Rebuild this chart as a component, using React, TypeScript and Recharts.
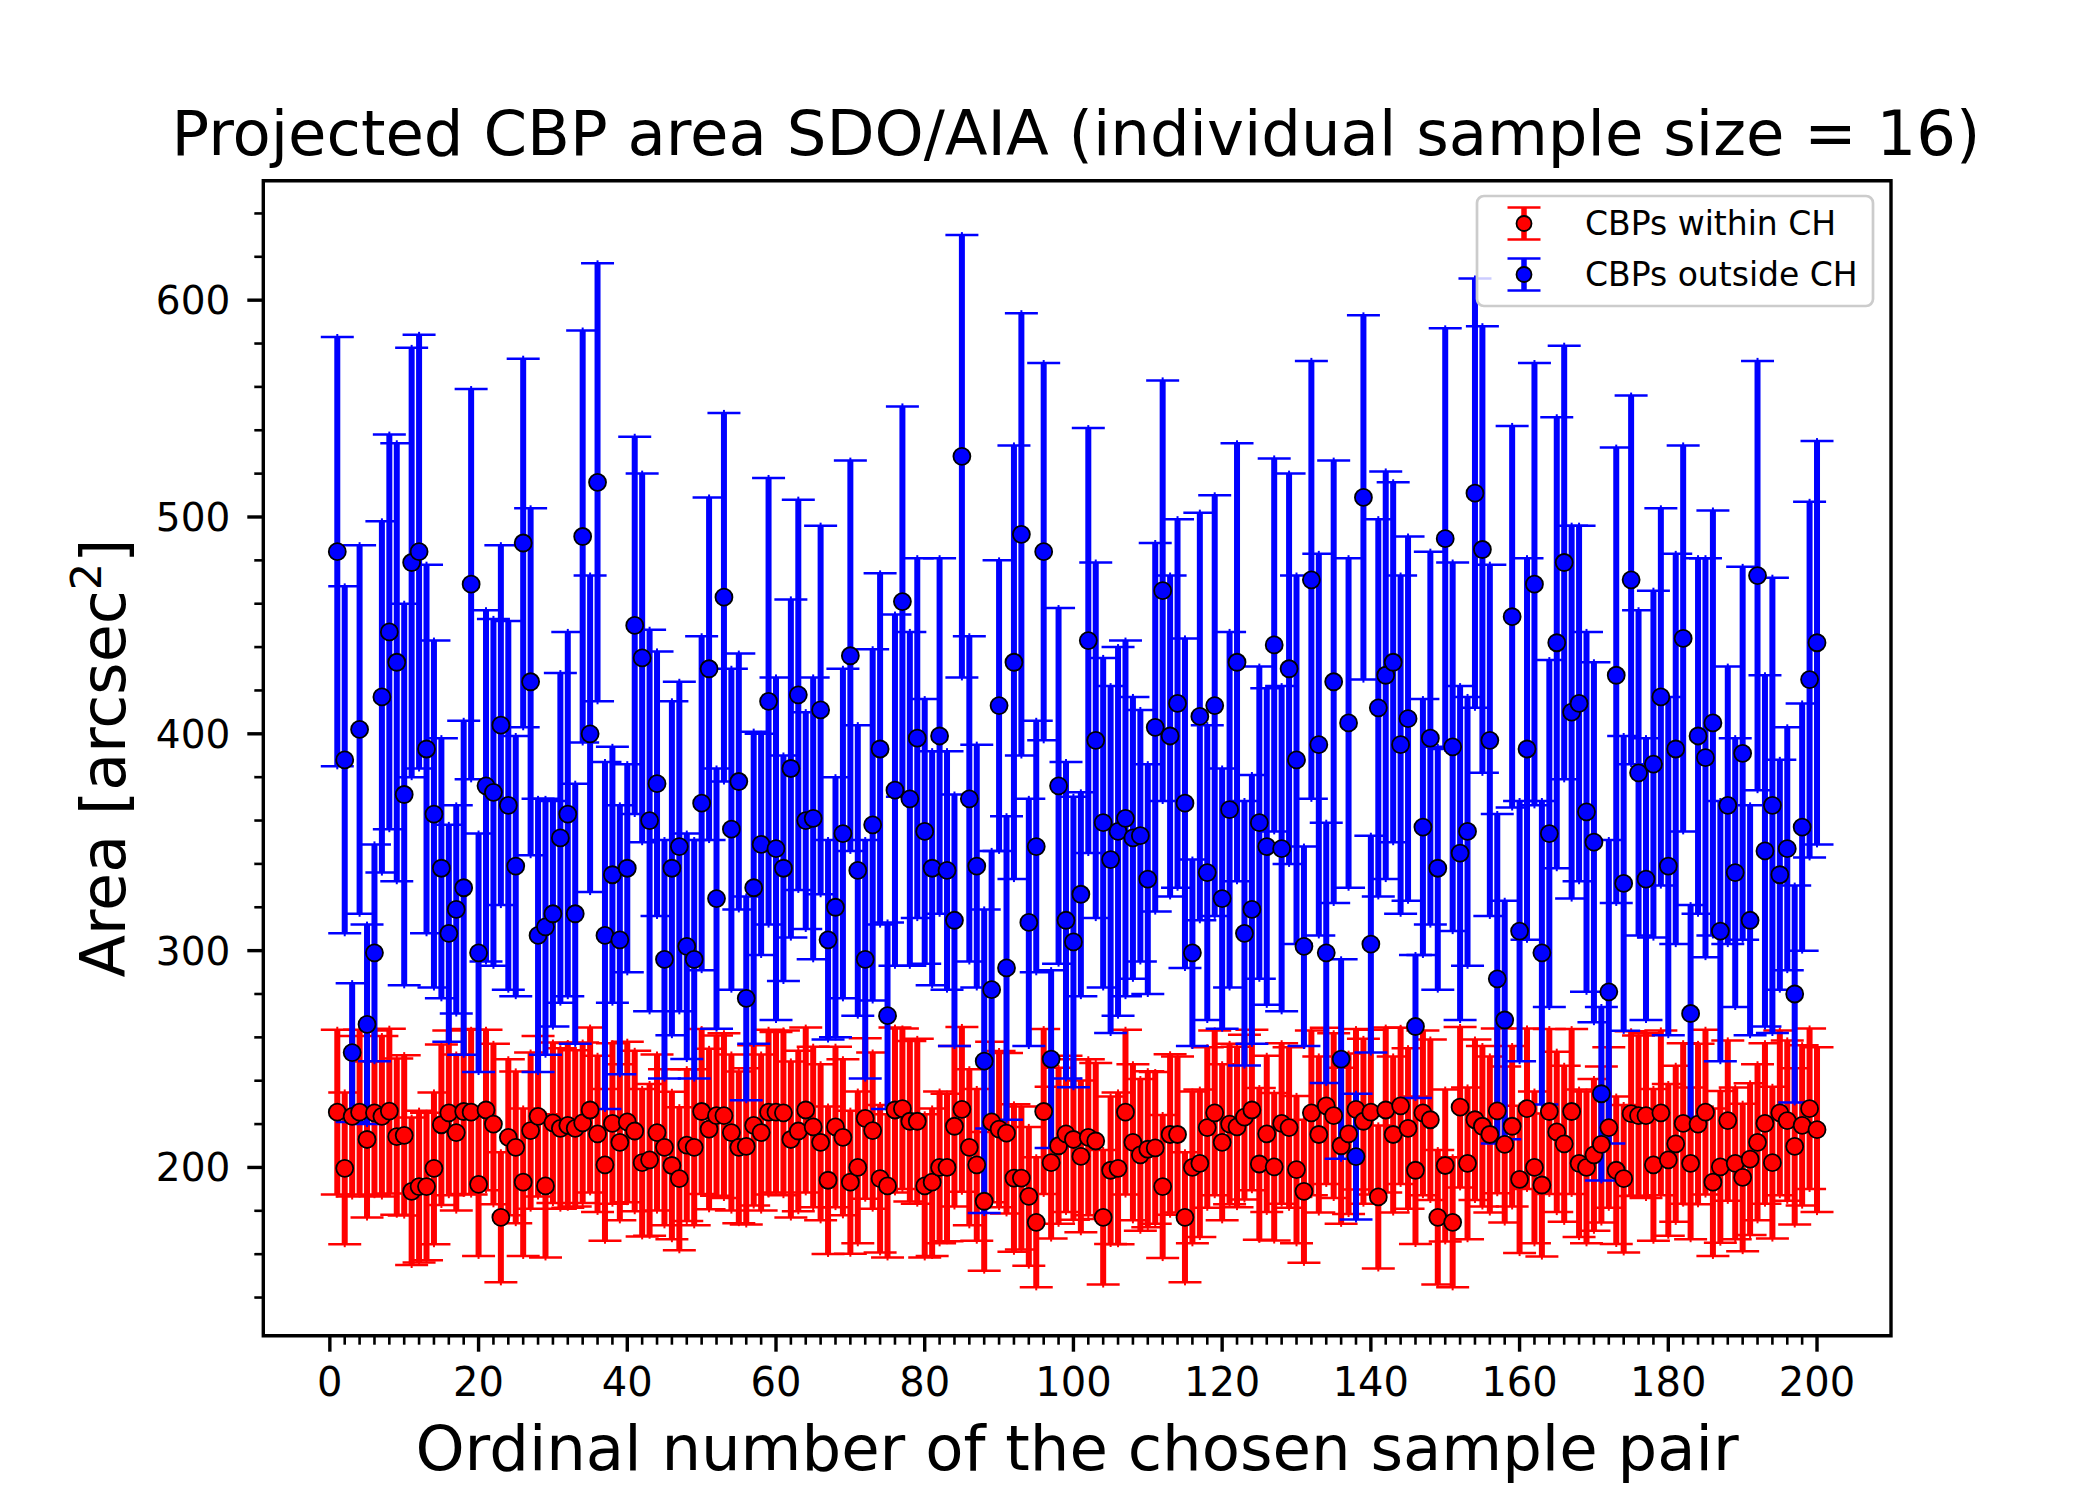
import { ScatterChart, Scatter, XAxis, YAxis, ErrorBar, ReferenceArea } from 'recharts';

// mean projected area of CBPs outside coronal holes, per sample pair 1..200
const blueValues = [
  484, 388, 253, 402, 266, 299, 417, 447, 433, 372, 479, 484, 393, 363, 338, 308, 319, 329, 469, 299,
  376, 373, 404, 367, 339, 488, 424, 307, 311, 317, 352, 363, 317, 491, 400, 516, 307, 335, 305, 338,
  450, 435, 360, 377, 296, 338, 348, 302, 296, 368, 430, 324, 463, 356, 378, 278, 329, 349, 415, 347,
  338, 384, 418, 360, 361, 411, 305, 320, 354, 436, 337, 296, 358, 393, 270, 374, 461, 370, 398, 355,
  338, 399, 337, 314, 528, 370, 339, 249, 282, 413, 292, 433, 492, 313, 348, 484, 250, 376, 314, 304,
  326, 443, 397, 359, 342, 355, 361, 352, 353, 333, 403, 466, 399, 414, 368, 299, 408, 336, 413, 324,
  365, 433, 308, 319, 359, 348, 441, 347, 430, 388, 302, 471, 395, 299, 424, 250, 405, 205, 509, 303,
  412, 427, 433, 395, 407, 265, 357, 398, 338, 490, 394, 345, 355, 511, 485, 397, 287, 268, 454, 309,
  393, 469, 299, 354, 442, 479, 410, 414, 364, 350, 234, 281, 427, 331, 471, 382, 333, 386, 417, 339,
  393, 444, 271, 399, 389, 405, 309, 367, 336, 391, 314, 473, 346, 367, 335, 347, 280, 357, 425, 442,
];
const blueErrors = [
  99, 80, 32, 85, 46, 50, 81, 91, 101, 88, 99, 100, 85, 80, 60, 50, 48, 77, 90, 55,
  81, 80, 83, 85, 60, 85, 80, 63, 59, 52, 76, 84, 60, 95, 73, 101, 80, 59, 62, 48,
  87, 85, 88, 61, 55, 77, 76, 52, 55, 77, 79, 60, 85, 74, 59, 47, 72, 51, 103, 79,
  52, 78, 90, 50, 65, 85, 46, 60, 76, 90, 67, 55, 81, 81, 43, 81, 90, 77, 83, 61,
  54, 82, 55, 58, 102, 75, 56, 70, 64, 67, 70, 100, 102, 57, 58, 87, 41, 82, 73, 67,
  47, 98, 82, 76, 80, 85, 82, 65, 58, 53, 85, 97, 74, 85, 76, 43, 94, 68, 97, 60,
  82, 101, 61, 62, 72, 73, 86, 75, 90, 85, 46, 101, 88, 60, 102, 46, 76, 29, 84, 50,
  87, 94, 83, 78, 84, 33, 59, 86, 56, 97, 85, 77, 62, 99, 103, 81, 76, 55, 88, 60,
  88, 102, 70, 80, 104, 100, 86, 82, 83, 83, 40, 70, 105, 68, 85, 75, 65, 80, 87, 78,
  90, 89, 50, 82, 92, 98, 60, 64, 62, 86, 53, 99, 81, 105, 53, 56, 50, 57, 82, 93,
];

// mean projected area of CBPs within coronal holes
const redValues = [
  225.5, 199.6, 223.6, 225.5, 212.9, 225.2, 223.6, 226, 214.2, 214.8, 189, 191.2, 191.2, 199.6, 219.7, 225.2, 216.1, 225.8, 225.5, 192.2,
  226.5, 220, 177, 213.9, 209.3, 193.2, 217, 223.6, 191.5, 220.6, 218, 219.4, 218, 220.6, 226.5, 215.5, 201.2, 220.3, 211.6, 221,
  216.8, 202.2, 203.5, 216.1, 209.3, 200.9, 194.8, 210.3, 209.3, 225.8, 217.7, 223.9, 223.9, 216.1, 209.3, 209.7, 219.4, 216.1, 225.5, 225.5,
  225.2, 212.9, 216.8, 226.5, 218.7, 211.6, 194.1, 218.7, 213.9, 193.2, 200, 222.6, 217, 194.8, 191.5, 226.5, 227.1, 221.3, 221.3, 191.5,
  193.2, 200, 200, 219, 226.8, 209.3, 201.2, 184.4, 221, 217.7, 215.8, 195.1, 195.1, 186.7, 174.7, 225.8, 202.2, 210, 215.5, 212.9,
  205.1, 213.9, 212.2, 177, 198.7, 199.6, 225.5, 211.6, 205.8, 208.4, 209, 191.2, 215.2, 215.2, 177, 200, 201.9, 218.4, 225.2, 211.6,
  220, 218.7, 223.2, 226.5, 201.6, 215.5, 200.3, 220.3, 218.4, 199, 189, 225.2, 215.2, 228.4, 223.9, 210, 215.5, 226.8, 221.3, 225.5,
  186.4, 226.5, 215.2, 228.4, 218, 198.7, 225.2, 222, 177, 200.9, 174.7, 227.8, 201.9, 222, 219, 215.2, 226.1, 210.6, 219, 194.5,
  227.1, 200, 191.9, 225.8, 216.4, 210.9, 225.8, 201.9, 200, 205.8, 210.6, 218.4, 198.7, 194.8, 224.8, 223.9, 223.9, 201.2, 225.2, 203.5,
  210.9, 220.3, 201.9, 220, 225.5, 193.2, 200.3, 221.6, 201.9, 195.4, 203.8, 211.6, 220.3, 202.2, 225.2, 221.6, 209.7, 219.4, 227.1, 217.4,
];
const redErrors = [
  38, 35, 37, 38, 36, 38, 37, 38, 36, 37, 34, 35, 34, 35, 37, 38, 36, 38, 38, 33,
  37, 37, 30, 36, 35, 34, 36, 37, 33, 37, 37, 38, 36, 37, 38, 36, 35, 37, 36, 37,
  37, 34, 35, 36, 36, 34, 33, 35, 36, 38, 37, 37, 38, 36, 35, 36, 37, 36, 38, 37,
  38, 36, 37, 38, 37, 36, 34, 37, 36, 33, 35, 37, 36, 34, 33, 38, 37, 37, 38, 33,
  34, 35, 34, 37, 38, 36, 35, 32, 37, 36, 37, 34, 33, 32, 30, 38, 35, 36, 36, 37,
  35, 36, 36, 31, 34, 35, 38, 36, 35, 36, 35, 33, 37, 36, 30, 35, 34, 37, 38, 36,
  37, 37, 38, 37, 35, 36, 34, 37, 37, 34, 33, 38, 36, 36, 38, 36, 37, 37, 38, 38,
  33, 38, 36, 36, 37, 34, 38, 37, 31, 35, 30, 37, 35, 37, 37, 36, 38, 36, 37, 34,
  37, 35, 33, 38, 37, 36, 38, 34, 35, 35, 36, 37, 34, 34, 38, 37, 38, 35, 38, 35,
  36, 37, 35, 37, 38, 34, 35, 37, 35, 34, 35, 36, 37, 35, 38, 37, 36, 37, 37, 38,
];

const xMajorTicks = [0, 20, 40, 60, 80, 100, 120, 140, 160, 180, 200];
const yMajorTicks = [200, 300, 400, 500, 600];
const xTicks = Array.from({ length: 101 }, (_, i) => i * 2);
const yTicks = Array.from({ length: 26 }, (_, i) => 140 + i * 20);

// errBar drives the thick vertical stroke, errCap the thin caps
const redData = redValues.map((y, i) => ({ x: i + 1, y, errBar: redErrors[i], errCap: redErrors[i] }));
const blueData = blueValues.map((y, i) => ({ x: i + 1, y, errBar: blueErrors[i], errCap: blueErrors[i] }));

const FONT = '"DejaVu Sans", sans-serif';
const X_DOMAIN: [number, number] = [-8.95, 209.95];
const Y_DOMAIN: [number, number] = [122.4, 655.1];

function XTick({ x, y, payload }: any) {
  const major = xMajorTicks.includes(payload.value);
  return (
    <g>
      <line x1={x} y1={y} x2={x} y2={y + (major ? 16 : 9)} stroke="#000" strokeWidth={major ? 3.4 : 2.6} />
      {major && (
        <text x={x} y={y + 60} textAnchor="middle" fontSize={40} fontFamily={FONT} fill="#000">
          {payload.value}
        </text>
      )}
    </g>
  );
}

function YTick({ x, y, payload }: any) {
  const major = yMajorTicks.includes(payload.value);
  return (
    <g>
      <line x1={x} y1={y} x2={x - (major ? 16 : 9)} y2={y} stroke="#000" strokeWidth={major ? 3.4 : 2.6} />
      {major && (
        <text x={x - 33} y={y + 14} textAnchor="end" fontSize={39} fontFamily={FONT} fill="#000">
          {payload.value}
        </text>
      )}
    </g>
  );
}

function Dot(color: string) {
  return (props: any) => <circle cx={props.cx} cy={props.cy} r={8.5} fill={color} stroke="#000" strokeWidth={1.8} />;
}
function NoDot(props: any) {
  return <circle cx={props.cx} cy={props.cy} r={0} fill="none" />;
}

function LegendRow({ y, color, label }: { y: number; color: string; label: string }) {
  return (
    <g>
      <line x1={1524} y1={y - 16} x2={1524} y2={y + 16} stroke={color} strokeWidth={5.5} />
      <line x1={1507.5} y1={y - 16} x2={1540.5} y2={y - 16} stroke={color} strokeWidth={2.5} />
      <line x1={1507.5} y1={y + 16} x2={1540.5} y2={y + 16} stroke={color} strokeWidth={2.5} />
      <circle cx={1524} cy={y} r={7.5} fill={color} stroke="#000" strokeWidth={1.8} />
      <text x={1585} y={y + 11.5} fontSize={33} fontFamily={FONT} fill="#000">{label}</text>
    </g>
  );
}

export default function App() {
  return (
    <div style={{ position: 'absolute', left: 0, top: 0, width: 2100, height: 1500, background: '#fff' }}>
      <ScatterChart width={2100} height={1500} margin={{ top: 180.7, right: 209, bottom: 64.3, left: 163.3 }}>
        <XAxis
          type="number"
          dataKey="x"
          domain={X_DOMAIN}
          allowDataOverflow
          ticks={xTicks}
          interval={0}
          height={100}
          axisLine={false}
          tickLine={false}
          tickSize={0}
          tickMargin={0}
          tick={<XTick />}
        />
        <YAxis
          type="number"
          dataKey="y"
          domain={Y_DOMAIN}
          allowDataOverflow
          ticks={yTicks}
          interval={0}
          width={100}
          axisLine={false}
          tickLine={false}
          tickSize={0}
          tickMargin={0}
          tick={<YTick />}
        />
        <Scatter name="redBars" data={redData} shape={NoDot} isAnimationActive={false} legendType="none">
          <ErrorBar dataKey="errBar" direction="y" width={1} stroke="#ff0000" strokeWidth={6} isAnimationActive={false} />
        </Scatter>
        <Scatter name="red" data={redData} shape={Dot('#ff0000')} isAnimationActive={false}>
          <ErrorBar dataKey="errCap" direction="y" width={16.5} stroke="#ff0000" strokeWidth={2.5} isAnimationActive={false} />
        </Scatter>
        <Scatter name="blueBars" data={blueData} shape={NoDot} isAnimationActive={false} legendType="none">
          <ErrorBar dataKey="errBar" direction="y" width={1} stroke="#0000ff" strokeWidth={6} isAnimationActive={false} />
        </Scatter>
        <Scatter name="blue" data={blueData} shape={Dot('#0000ff')} isAnimationActive={false}>
          <ErrorBar dataKey="errCap" direction="y" width={16.5} stroke="#0000ff" strokeWidth={2.5} isAnimationActive={false} />
        </Scatter>
        <ReferenceArea
          x1={X_DOMAIN[0]}
          x2={X_DOMAIN[1]}
          y1={Y_DOMAIN[0]}
          y2={Y_DOMAIN[1]}
          fill="none"
          fillOpacity={0}
          stroke="#000"
          strokeWidth={3.4}
          ifOverflow="visible"
        />
      </ScatterChart>
      <svg width={2100} height={1500} style={{ position: 'absolute', left: 0, top: 0, pointerEvents: 'none' }}>
        <text x={1076} y={155} textAnchor="middle" fontSize={62.5} fontFamily={FONT} fill="#000">
          Projected CBP area SDO/AIA (individual sample size = 16)
        </text>
        <text x={1077} y={1470} textAnchor="middle" fontSize={62.5} fontFamily={FONT} fill="#000">
          Ordinal number of the chosen sample pair
        </text>
        <text x={125} y={758} textAnchor="middle" fontSize={62} fontFamily={FONT} fill="#000" transform="rotate(-90 125 758)">
          Area [arcsec<tspan dy={-24} fontSize={43}>2</tspan><tspan dy={24}>]</tspan>
        </text>
        <rect x={1477} y={196} width={396} height={110} rx={7} fill="#fff" fillOpacity={0.8} stroke="#cccccc" strokeWidth={2.7} />
        <LegendRow y={223.5} color="#ff0000" label="CBPs within CH" />
        <LegendRow y={274.5} color="#0000ff" label="CBPs outside CH" />
      </svg>
    </div>
  );
}
